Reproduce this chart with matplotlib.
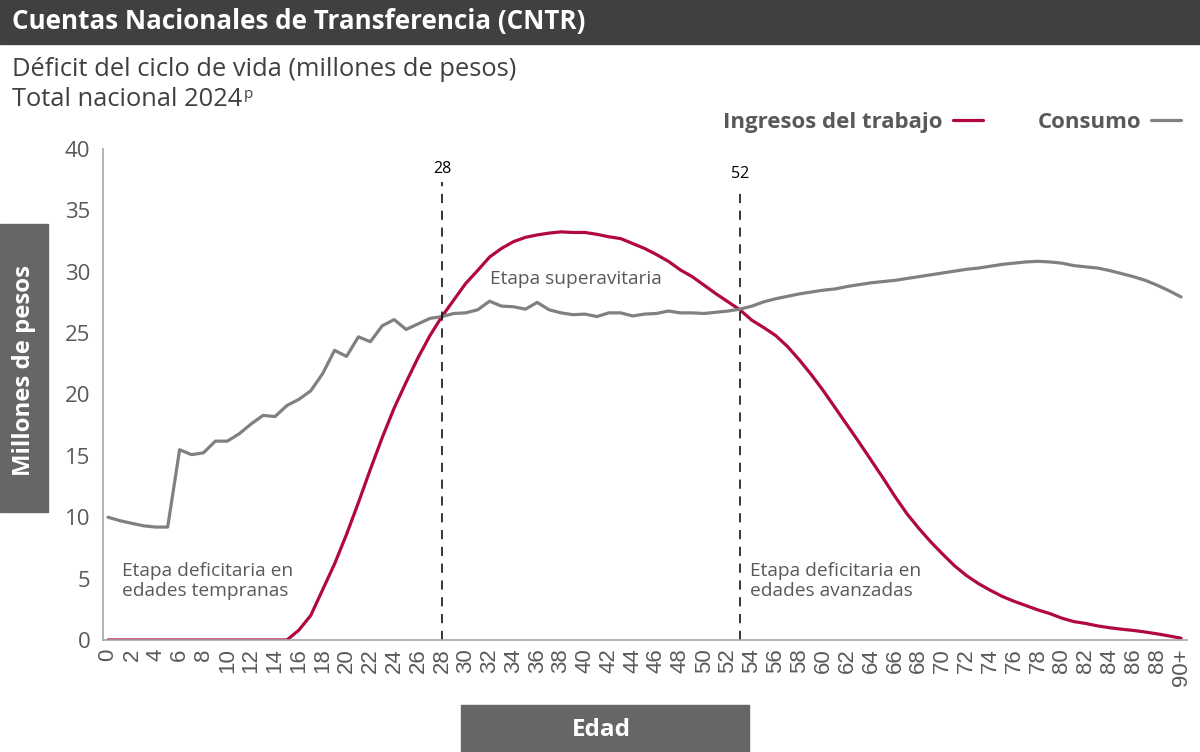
import matplotlib.pyplot as plt
from matplotlib.patches import Rectangle

# edades 0..89 y 90+
edades = [str(i) for i in range(90)] + ['90+']

consumo = [10.0, 9.72, 9.5, 9.3, 9.2, 9.2, 15.5, 15.1, 15.25, 16.2,
           16.2, 16.8, 17.6, 18.3, 18.2, 19.1, 19.6, 20.3, 21.7, 23.6,
           23.1, 24.7, 24.3, 25.6, 26.1, 25.3, 25.75, 26.2, 26.35, 26.6,
           26.65, 26.9, 27.6, 27.2, 27.15, 26.95, 27.5, 26.9, 26.65, 26.5,
           26.55, 26.35, 26.65, 26.65, 26.4, 26.55, 26.6, 26.8, 26.65, 26.65,
           26.6, 26.7, 26.8, 26.95, 27.2, 27.55, 27.8, 28.0, 28.2, 28.35,
           28.5, 28.6, 28.8, 28.95, 29.1, 29.2, 29.3, 29.45, 29.6, 29.75,
           29.9, 30.05, 30.2, 30.3, 30.45, 30.6, 30.7, 30.8, 30.85, 30.8,
           30.7, 30.5, 30.4, 30.3, 30.1, 29.85, 29.6, 29.3, 28.9, 28.45,
           27.95]

ingresos = [0, 0, 0, 0, 0, 0, 0, 0, 0, 0,
            0, 0, 0, 0, 0, 0, 0.8, 2.0, 4.1, 6.2,
            8.6, 11.2, 13.9, 16.5, 18.9, 21.0, 23.0, 24.8, 26.35, 27.7,
            29.05, 30.1, 31.2, 31.9, 32.45, 32.8, 33.0, 33.15, 33.25, 33.2,
            33.2, 33.05, 32.85, 32.7, 32.3, 31.9, 31.4, 30.85, 30.15, 29.6,
            28.9, 28.2, 27.55, 26.9, 26.05, 25.45, 24.8, 23.9, 22.8, 21.6,
            20.3, 18.9, 17.5, 16.1, 14.65, 13.2, 11.7, 10.3, 9.1, 8.0,
            7.0, 6.05, 5.25, 4.6, 4.05, 3.55, 3.15, 2.8, 2.45, 2.15,
            1.78, 1.5, 1.35, 1.15, 1.0, 0.88, 0.78, 0.65, 0.5, 0.33,
            0.15]

cortes = [28, 53]
cortes_txt = ['28', '52']

rojo = '#B0083F'
gris = '#808080'
texto = '#595959'

plt.rcParams['font.family'] = ['Open Sans', 'DejaVu Sans']

fig = plt.figure(figsize=(12, 7.52), dpi=100)
ax = fig.add_axes([102.7 / 1200, 1 - 640 / 752, (1187 - 102.7) / 1200, (640 - 149) / 752])

x = list(range(len(edades)))
ax.plot(x, ingresos, color=rojo, lw=2.3, label='Ingresos del trabajo', solid_capstyle='round')
ax.plot(x, consumo, color=gris, lw=2.3, label='Consumo', solid_capstyle='round')

for c, t, top in zip(cortes, cortes_txt, [37.3, 36.9]):
    ax.plot([c, c], [0, top], color='black', lw=1.1, ls=(0, (6, 5)))
    ax.text(c, top + 0.4, t, ha='center', va='bottom', fontsize=11.5, color='black')

ax.text(32.0, 29.4, 'Etapa superavitaria', fontsize=13.8, color=texto, va='center')
ax.text(1.2, 4.8, 'Etapa deficitaria en\nedades tempranas', fontsize=13.8, color=texto,
        va='center', linespacing=1.1)
ax.text(53.85, 4.8, 'Etapa deficitaria en\nedades avanzadas', fontsize=13.8, color=texto,
        va='center', linespacing=1.1)

ax.set_xlim(-0.45, 90.5)
ax.set_ylim(0, 40)
ax.set_yticks(range(0, 41, 5))
ax.set_xticks(x[::2])
ax.set_xticklabels(edades[::2], rotation=90, family='Liberation Sans', fontsize=16, color=texto)
ax.tick_params(axis='x', length=0, pad=6)
ax.tick_params(axis='y', length=0, pad=9, labelsize=16, labelcolor=texto)
for s in ['top', 'right']:
    ax.spines[s].set_visible(False)
ax.spines['left'].set_color('#a6a6a6')
ax.spines['bottom'].set_color('#a6a6a6')
ax.spines['left'].set_linewidth(1.2)
ax.spines['bottom'].set_linewidth(1.2)

leg = ax.legend(loc='upper right', bbox_to_anchor=(1192 / 1200, 1 - 101 / 752),
                bbox_transform=fig.transFigure, ncol=2, frameon=False, markerfirst=False,
                handlelength=1.35, handletextpad=0.45, columnspacing=2.45, borderpad=0,
                prop={'weight': 'bold', 'size': 16}, labelcolor=texto)

# cabecera
fig.patches.append(Rectangle((0, 1 - 44 / 752), 1, 44 / 752, transform=fig.transFigure,
                             color='#404040', zorder=0))
fig.text(12 / 1200, 1 - 22 / 752, 'Cuentas Nacionales de Transferencia (CNTR)',
         color='white', fontsize=18.7, fontweight='bold', va='center')
fig.text(12 / 1200, 1 - 70 / 752, 'Déficit del ciclo de vida (millones de pesos)',
         color='#404040', fontsize=18.4, va='center')
t2 = fig.text(12 / 1200, 1 - 99 / 752, 'Total nacional 2024', color='#404040', fontsize=18.4, va='center')
ax.annotate('p', xy=(1.005, 0.97), xycoords=t2, fontsize=11, color='#404040', va='top', ha='left',
            annotation_clip=False)

# cajas de ejes
fig.patches.append(Rectangle((0, 1 - 512 / 752), 48 / 1200, 288 / 752, transform=fig.transFigure,
                             color='#666666', zorder=0))
fig.text(24 / 1200, 1 - 370 / 752, 'Millones de pesos', rotation=90, color='white',
         fontsize=17.2, fontweight='bold', ha='center', va='center')
fig.patches.append(Rectangle((461 / 1200, 0), 288 / 1200, 47 / 752, transform=fig.transFigure,
                             color='#666666', zorder=0))
fig.text(601 / 1200, 1 - 730 / 752, 'Edad', color='white', fontsize=17.5, fontweight='bold',
         ha='center', va='center')

fig.savefig('out.png', dpi=100)
